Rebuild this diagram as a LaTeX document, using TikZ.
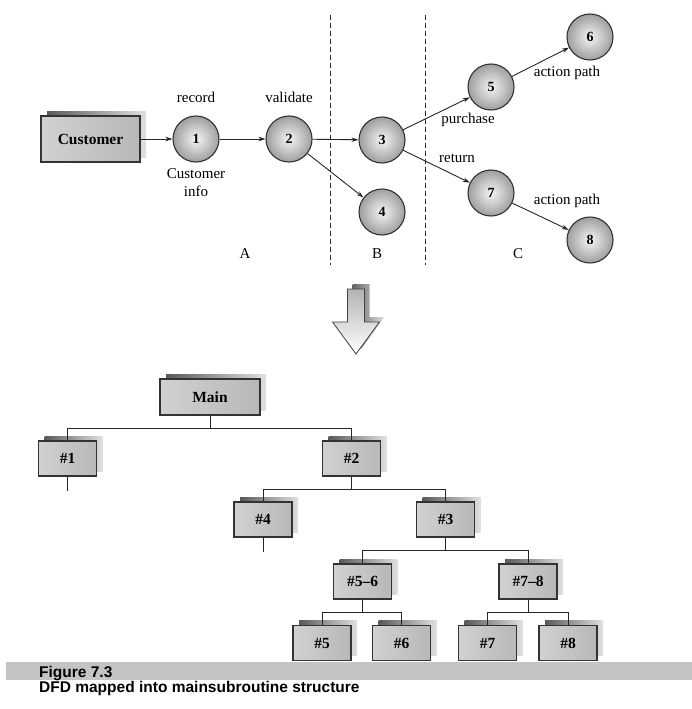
\documentclass[tikz,border=0pt]{standalone}
\usepackage{fontspec}
\setmainfont{Liberation Serif}
\newfontfamily\capfont{Liberation Sans}
\usetikzlibrary{arrows.meta,shadows}

\begin{document}
\begin{tikzpicture}[x=1pt, y=-1pt,
    % Styles
    lbl/.style={font=\fontsize{15}{18}\selectfont, inner sep=0pt, align=center},
    boxshadow/.style={general shadow={shadow xshift=6pt, shadow yshift=5pt, draw=none, left color=black!65, right color=black!12}},
    entity/.style={draw=black!80, line width=1.2pt, left color=black!18, middle color=black!5, right color=black!28, font=\fontsize{15.5}{18}\selectfont\bfseries, minimum width=99pt, minimum height=46pt, inner sep=0pt, boxshadow},
    module/.style={entity, minimum width=58pt, minimum height=35pt},
    bubble/.style={circle, draw=black!80, line width=1.1pt, inner color=black!4, outer color=black!38, minimum size=46pt, inner sep=0pt, font=\fontsize{14}{16}\selectfont\bfseries},
    flow/.style={-{Stealth[length=7pt, width=4.5pt]}, black!85, line width=0.9pt},
    link/.style={black!85, line width=1pt},
    zone/.style={black!85, line width=0.8pt, dash pattern=on 5pt off 3pt},
    caption/.style={font=\capfont\fontsize{15.5}{18}\selectfont\bfseries, inner sep=0pt, anchor=base west},
]
\useasboundingbox (0,0) rectangle (692,709);

% DFD: zones
\draw[zone] (330,15) -- (330,265);
\draw[zone] (425,15) -- (425,265);

% DFD: source and transforms
\node[entity] (cust) at (90.5,139) {Customer};
\node[bubble] (p1) at (196,139) {1};
\node[bubble] (p2) at (289,139) {2};
\node[bubble] (p3) at (382,140) {3};
\node[bubble] (p4) at (382,212) {4};
\node[bubble] (p5) at (491,87) {5};
\node[bubble] (p6) at (590,37) {6};
\node[bubble] (p7) at (491,193) {7};
\node[bubble] (p8) at (590,240) {8};

\draw[flow] (cust) -- (p1);
\draw[flow] (p1) -- (p2);
\draw[flow] (p2) -- (p3);
\draw[flow] (p2) -- (p4);
\draw[flow] (p3) -- (p5);
\draw[flow] (p3) -- (p7);
\draw[flow] (p5) -- (p6);
\draw[flow] (p7) -- (p8);

% DFD: labels
\node[lbl, anchor=base] (lrec) at (196,102) {record};
\node[lbl, anchor=base] (lval) at (289,102) {validate};
\node[lbl] (linfo) at (196,183) {Customer\\info};
\node[lbl, anchor=base] (lpur) at (468,123) {purchase};
\node[lbl, anchor=base] (lret) at (457,162) {return};
\node[lbl, anchor=base] (lact1) at (567,77) {action path};
\node[lbl, anchor=base] (lact2) at (567,204) {action path};
\node[lbl, anchor=base] (za) at (245,258) {A};
\node[lbl, anchor=base] (zb) at (377,258) {B};
\node[lbl, anchor=base] (zc) at (518,258) {C};

% Mapping arrow
\shade[left color=black!60, right color=black!12] (352.5,284) -- (369.5,284) -- (369.5,317) -- (384.5,317) -- (361,349) -- (352.5,337) -- cycle;
\shade[draw=black!75, line width=0.8pt, top color=black!30, bottom color=white] (347.5,289) -- (364.5,289) -- (364.5,322) -- (379.5,322) -- (356,354) -- (332.5,322) -- (347.5,322) -- cycle;

% Program structure
\node[module, minimum width=100pt, minimum height=36pt] (main) at (210,397) {Main};
\node[module] (m1) at (67.5,458.5) {\#1};
\node[module] (m2) at (351.5,458.5) {\#2};
\node[module] (m4) at (263,519.5) {\#4};
\node[module] (m3) at (445.5,519.5) {\#3};
\node[module] (m56) at (362.5,581.5) {\#5--6};
\node[module] (m78) at (528,581.5) {\#7--8};
\node[module] (m5) at (322,643) {\#5};
\node[module] (m6) at (401.5,643) {\#6};
\node[module] (m7) at (487.5,643) {\#7};
\node[module] (m8) at (568,643) {\#8};

\draw[link] (main.south) -- ++(0,13) -| (m1.north);
\draw[link] (main.south) -- ++(0,13) -| (m2.north);
\draw[link] (m2.south) -- ++(0,13) -| (m4.north);
\draw[link] (m2.south) -- ++(0,13) -| (m3.north);
\draw[link] (m3.south) -- ++(0,13) -| (m56.north);
\draw[link] (m3.south) -- ++(0,13) -| (m78.north);
\draw[link] (m56.south) -- ++(0,13) -| (m5.north);
\draw[link] (m56.south) -- ++(0,13) -| (m6.north);
\draw[link] (m78.south) -- ++(0,13) -| (m7.north);
\draw[link] (m78.south) -- ++(0,13) -| (m8.north);
\draw[link] (m1.south) -- ++(0,14);
\draw[link] (m4.south) -- ++(0,14);

% Caption
\fill[black!23] (6,662) rectangle (692,680);
\node[caption] (figno) at (39,677) {Figure 7.3};
\node[caption] (figtext) at (39,692) {DFD mapped into mainsubroutine structure};

\end{tikzpicture}
\end{document}
